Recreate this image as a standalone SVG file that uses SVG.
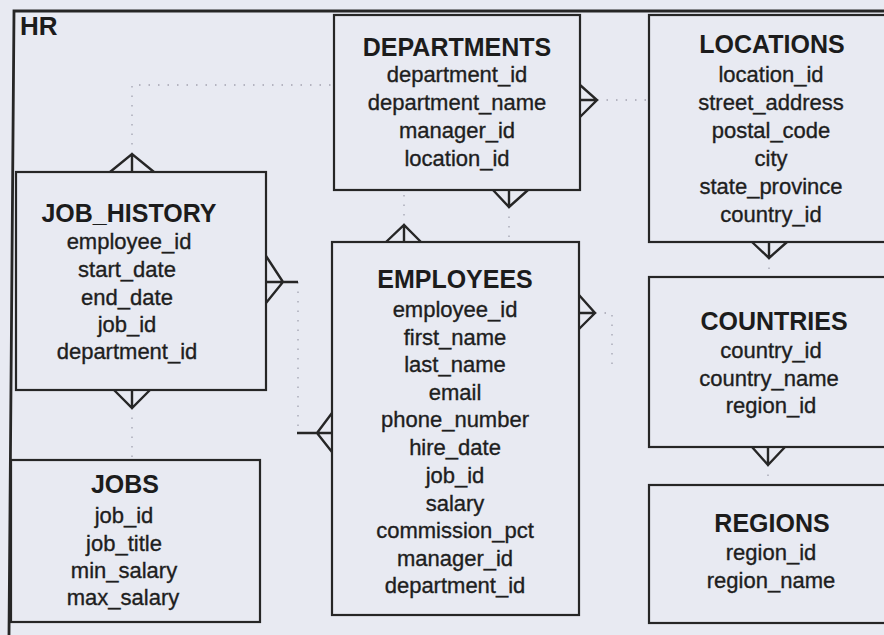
<svg xmlns="http://www.w3.org/2000/svg" width="884" height="635" viewBox="0 0 884 635">
<style>
.box{fill:none;stroke:#262626;stroke-width:2.2}
.t{font-family:"Liberation Sans",Arial,sans-serif;font-weight:bold;font-size:25px;fill:#1c1c1c;text-anchor:middle}
.a{font-family:"Liberation Sans",Arial,sans-serif;font-size:22px;fill:#1e1e1e;stroke:#1e1e1e;stroke-width:0.35;text-anchor:middle}
.cf{fill:none;stroke:#262626;stroke-width:2.4;stroke-linejoin:miter}
.dot{fill:none;stroke:#a2a2b0;stroke-width:1.3;stroke-dasharray:1.5 8}
</style>
<rect x="0" y="0" width="884" height="635" fill="#e8eaf2"/>
<g id="hr-frame">
<path d="M884 11 H14 L9 635" fill="none" stroke="#262626" stroke-width="2.8"/>
<text x="20" y="35" font-family="Liberation Sans, Arial, sans-serif" font-weight="bold" font-size="26" fill="#1c1c1c">HR</text>
</g>
<g id="connectors">
<path class="dot" d="M132 154 V85 H334"/>
<path class="dot" d="M597 100 H649"/>
<path class="dot" d="M509 207 V242"/>
<path class="dot" d="M404 225 V190"/>
<path class="dot" d="M595 313 H612 V365"/>
<path class="dot" d="M298 282 V433"/>
<path class="dot" d="M132 408 V460"/>
<path class="dot" d="M769 258 V277"/>
<path class="dot" d="M768 465 V485"/>
<path class="cf" d="M110 172 L132 154 L154 172 M132 154 V172"/>
<path class="cf" d="M580 85 L597 100 L580 117 M580 100 H597"/>
<path class="cf" d="M493 190 L509 207 L528 190 M509 190 V207"/>
<path class="cf" d="M386 242 L404 225 L421 242 M404 225 V242"/>
<path class="cf" d="M579 295 L595 313 L579 329 M579 313 H595"/>
<path class="cf" d="M266 256 L283 282 L266 303 M266 282 H298"/>
<path class="cf" d="M332 413 L317 433 L332 452 M297 433 H332"/>
<path class="cf" d="M114 390 L132 408 L150 390 M132 390 V408"/>
<path class="cf" d="M752 242 L769 258 L787 242 M769 242 V258"/>
<path class="cf" d="M752 447 L768 465 L785 447 M768 447 V465"/>
</g>
<g id="departments">
<rect class="box" x="334" y="15" width="246" height="175"/>
<text class="t" x="457" y="56">DEPARTMENTS</text>
<text class="a" x="457" y="82">department_id</text>
<text class="a" x="457" y="110">department_name</text>
<text class="a" x="457" y="138">manager_id</text>
<text class="a" x="457" y="166">location_id</text>
</g>
<g id="locations">
<rect class="box" x="649" y="15" width="250" height="227"/>
<text class="t" x="772" y="53">LOCATIONS</text>
<text class="a" x="771" y="82">location_id</text>
<text class="a" x="771" y="110">street_address</text>
<text class="a" x="771" y="138">postal_code</text>
<text class="a" x="771" y="166">city</text>
<text class="a" x="771" y="194">state_province</text>
<text class="a" x="771" y="222">country_id</text>
</g>
<g id="job_history">
<rect class="box" x="16" y="172" width="250" height="218"/>
<text class="t" x="129" y="222">JOB_HISTORY</text>
<text class="a" x="129" y="249">employee_id</text>
<text class="a" x="127" y="277">start_date</text>
<text class="a" x="127" y="305">end_date</text>
<text class="a" x="127" y="332">job_id</text>
<text class="a" x="127" y="359">department_id</text>
</g>
<g id="employees">
<rect class="box" x="332" y="242" width="247" height="373"/>
<text class="t" x="455" y="288">EMPLOYEES</text>
<text class="a" x="455" y="317">employee_id</text>
<text class="a" x="455" y="345">first_name</text>
<text class="a" x="455" y="372">last_name</text>
<text class="a" x="455" y="400">email</text>
<text class="a" x="455" y="427">phone_number</text>
<text class="a" x="455" y="455">hire_date</text>
<text class="a" x="455" y="483">job_id</text>
<text class="a" x="455" y="511">salary</text>
<text class="a" x="455" y="538">commission_pct</text>
<text class="a" x="455" y="566">manager_id</text>
<text class="a" x="455" y="593">department_id</text>
</g>
<g id="countries">
<rect class="box" x="649" y="277" width="250" height="170"/>
<text class="t" x="774" y="330">COUNTRIES</text>
<text class="a" x="771" y="358">country_id</text>
<text class="a" x="769" y="386">country_name</text>
<text class="a" x="771" y="413">region_id</text>
</g>
<g id="jobs">
<rect class="box" x="11" y="460" width="249" height="162"/>
<text class="t" x="125" y="493">JOBS</text>
<text class="a" x="124" y="523">job_id</text>
<text class="a" x="124" y="551">job_title</text>
<text class="a" x="124" y="578">min_salary</text>
<text class="a" x="123" y="605">max_salary</text>
</g>
<g id="regions">
<rect class="box" x="649" y="485" width="250" height="138"/>
<text class="t" x="772" y="532">REGIONS</text>
<text class="a" x="771" y="560">region_id</text>
<text class="a" x="771" y="588">region_name</text>
</g>
</svg>
